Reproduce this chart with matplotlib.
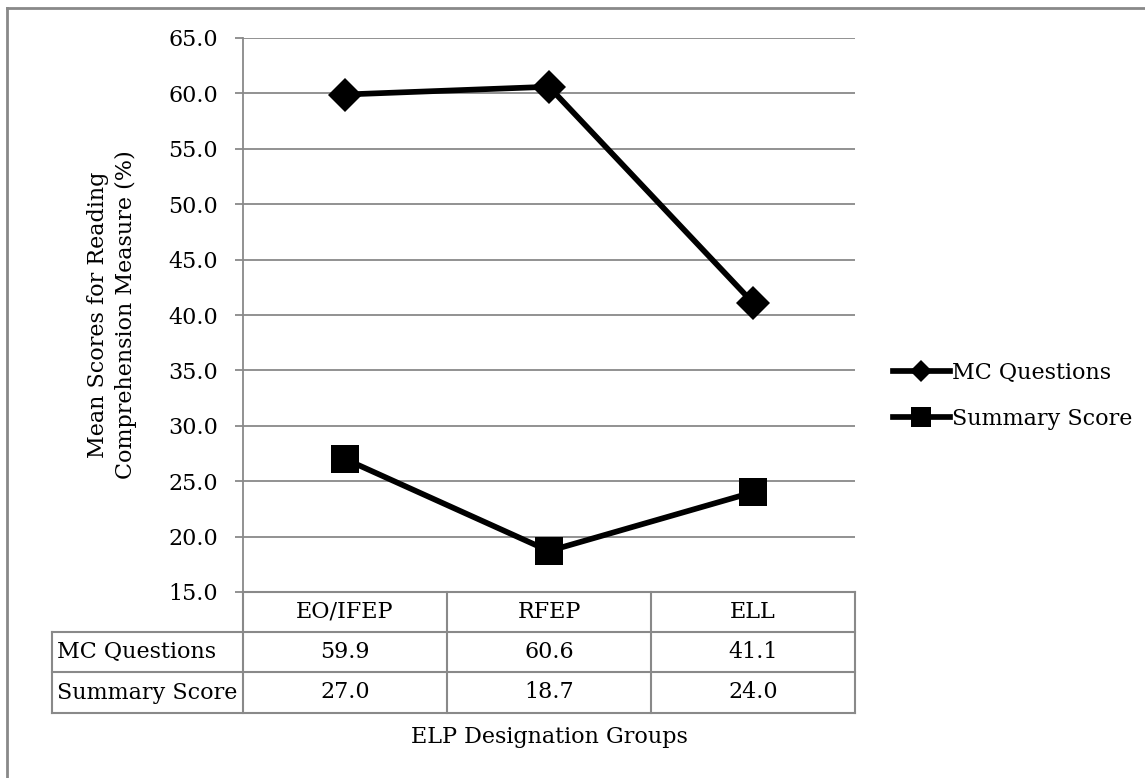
import matplotlib
matplotlib.use("Agg")
import matplotlib.pyplot as plt
from matplotlib.lines import Line2D

# Data
groups = ["EO/IFEP", "RFEP", "ELL"]
series_names = ["MC Questions", "Summary Score"]
mc_questions = [59.9, 60.6, 41.1]
summary_score = [27.0, 18.7, 24.0]
y_ticks = [15, 20, 25, 30, 35, 40, 45, 50, 55, 60, 65]
y_label = "Mean Scores for Reading\nComprehension Measure (%)"
x_label = "ELP Designation Groups"

W, H = 1145, 778
GRAY = "#898989"
FONT = "DejaVu Serif"
FS = 16
LW = 4.1

plt.rcParams["font.family"] = FONT

fig = plt.figure(figsize=(W / 100, H / 100), dpi=100)

# pixel helpers
def fx(px):
    return px / W

def fy(py):
    return 1 - py / H

left, right, top, bottom = 243, 855, 38, 592
ax = fig.add_axes([fx(left), fy(bottom), fx(right - left), (bottom - top) / H])
ax.set_xlim(0, len(groups))
ax.set_ylim(min(y_ticks), max(y_ticks))
ax.set_yticks(y_ticks)
ax.set_yticklabels([f"{v:.1f}" for v in y_ticks], fontsize=FS)
ax.set_xticks([])
ax.grid(axis="y", color=GRAY, linewidth=1.3)
ax.set_axisbelow(True)
for s in ["top", "right", "bottom"]:
    ax.spines[s].set_visible(False)
ax.spines["left"].set_color(GRAY)
ax.spines["left"].set_linewidth(1.3)
ax.tick_params(axis="y", length=6, width=1.3, color=GRAY, pad=12)

xs = [i + 0.5 for i in range(len(groups))]
ax.plot(xs, mc_questions, color="black", lw=LW, marker="D", ms=17,
        mew=0, solid_joinstyle="round", clip_on=False, zorder=3)
ax.plot(xs, summary_score, color="black", lw=LW, marker="s", ms=20,
        mew=0, solid_joinstyle="round", clip_on=False, zorder=3)

# Legend
handles = [
    Line2D([], [], color="black", lw=LW, marker="D", ms=11, mew=0),
    Line2D([], [], color="black", lw=LW, marker="s", ms=14, mew=0),
]
fig.legend(handles, series_names, loc="center left",
           bbox_to_anchor=(fx(893), fy(396)), frameon=False, fontsize=FS,
           handlelength=2.55, handletextpad=0.1, labelspacing=1.08,
           borderpad=0, borderaxespad=0)

# Overlay in figure pixel coordinates for the data table and frame
ov = fig.add_axes([0, 0, 1, 1], facecolor="none")
ov.set_xlim(0, W)
ov.set_ylim(H, 0)
ov.axis("off")

lk = dict(color=GRAY, lw=1.5, solid_capstyle="projecting")
row_y = [592, 632, 672, 713]
col_x = [left + (right - left) * i / len(groups) for i in range(len(groups) + 1)]
label_left = 52

# horizontal rules
ov.plot([left, right], [row_y[0], row_y[0]], **lk)
for yy in row_y[1:]:
    ov.plot([label_left, right], [yy, yy], **lk)
# vertical rules
for xx in col_x:
    ov.plot([xx, xx], [row_y[0], row_y[-1]], **lk)
ov.plot([label_left, label_left], [row_y[1], row_y[-1]], **lk)

# header row: group names
for i, g in enumerate(groups):
    cx = (col_x[i] + col_x[i + 1]) / 2
    ov.text(cx, (row_y[0] + row_y[1]) / 2, g, ha="center", va="center", fontsize=FS)

# value rows
for r, (name, vals) in enumerate(zip(series_names, [mc_questions, summary_score])):
    cy = (row_y[r + 1] + row_y[r + 2]) / 2
    ov.text(label_left + 5, cy, name, ha="left", va="center", fontsize=FS)
    for i, v in enumerate(vals):
        cx = (col_x[i] + col_x[i + 1]) / 2
        ov.text(cx, cy, f"{v:.1f}", ha="center", va="center", fontsize=FS)

# axis titles
ov.text((left + right) / 2, 737, x_label, ha="center", va="center", fontsize=FS)
ov.text(112, (top + bottom) / 2, y_label, ha="center", va="center",
        rotation=90, fontsize=FS, linespacing=1.35)

# chart frame
ov.plot([7, 7], [8, H], color=GRAY, lw=2)
ov.plot([7, W], [8, 8], color=GRAY, lw=2)

fig.savefig("out.png", dpi=100)
